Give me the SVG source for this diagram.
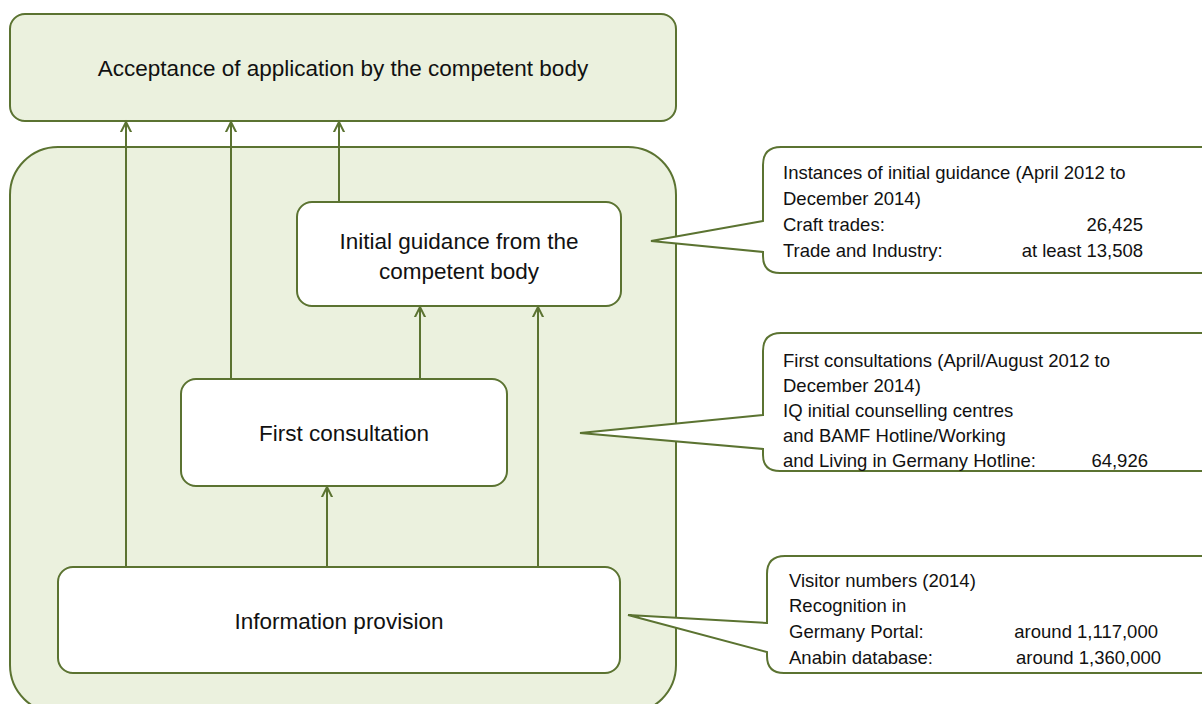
<svg xmlns="http://www.w3.org/2000/svg" width="1202" height="704" viewBox="0 0 1202 704">
<defs>
<style>
.g{fill:#EBF1DE;stroke:#5b7331;stroke-width:2}
.w{fill:#ffffff;stroke:#5b7331;stroke-width:2}
.c{fill:none;stroke:#5b7331;stroke-width:2}
.t{font-family:"Liberation Sans",Arial,sans-serif;font-size:22.5px;fill:#111;text-anchor:middle}
.s{font-family:"Liberation Sans",Arial,sans-serif;font-size:18.5px;fill:#111}
.r{text-anchor:end}
</style>
<marker id="ah" markerUnits="userSpaceOnUse" markerWidth="20" markerHeight="20" refX="0" refY="0" viewBox="-10 -10 20 20" orient="auto">
<path d="M-14,-7 L0,0 L-14,7" fill="none" stroke="#5b7331" stroke-width="2"/>
</marker>
</defs>
<rect width="1202" height="704" fill="#ffffff"/>
<g id="acceptance">
<rect class="g" x="10" y="14" width="666" height="107" rx="15"/>
<text class="t" x="343" y="76">Acceptance of application by the competent body</text>
</g>
<g id="container">
<rect class="g" x="10" y="147" width="666" height="566" rx="48"/>
</g>
<g id="initial-guidance">
<rect class="w" x="297" y="202" width="324" height="104" rx="15"/>
<text class="t" x="459" y="249">Initial guidance from the</text>
<text class="t" x="459" y="279">competent body</text>
</g>
<g id="first-consultation">
<rect class="w" x="181" y="379" width="326" height="107" rx="15"/>
<text class="t" x="344" y="441">First consultation</text>
</g>
<g id="information-provision">
<rect class="w" x="58" y="567" width="562" height="106" rx="15"/>
<text class="t" x="339" y="629">Information provision</text>
</g>
<g id="connectors">
<line class="c" x1="126" y1="567" x2="126" y2="122" marker-end="url(#ah)"/>
<line class="c" x1="231" y1="379" x2="231" y2="122" marker-end="url(#ah)"/>
<line class="c" x1="339" y1="202" x2="339" y2="122" marker-end="url(#ah)"/>
<line class="c" x1="420" y1="379" x2="420" y2="307" marker-end="url(#ah)"/>
<line class="c" x1="538" y1="567" x2="538" y2="307" marker-end="url(#ah)"/>
<line class="c" x1="327" y1="567" x2="327" y2="487" marker-end="url(#ah)"/>
</g>
<g id="callout-guidance">
<path class="w" d="M763,221 L651,241 L763,252 L763,256 Q763,273 780,273 L1212,273 L1212,147 L781,147 Q763,147 763,165 Z"/>
<text class="s" x="783" y="179">Instances of initial guidance (April 2012 to</text>
<text class="s" x="783" y="205">December 2014)</text>
<text class="s" x="783" y="231">Craft trades:</text>
<text class="s r" x="1143" y="231">26,425</text>
<text class="s" x="783" y="257">Trade and Industry:</text>
<text class="s r" x="1143" y="257">at least 13,508</text>
</g>
<g id="callout-consultations">
<path class="w" d="M763,415 L580,433 L763,449 L763,455 Q763,471 780,471 L1212,471 L1212,333 L781,333 Q763,333 763,351 Z"/>
<text class="s" x="783" y="367">First consultations (April/August 2012 to</text>
<text class="s" x="783" y="392">December 2014)</text>
<text class="s" x="783" y="417">IQ initial counselling centres</text>
<text class="s" x="783" y="442">and BAMF Hotline/Working</text>
<text class="s" x="783" y="467">and Living in Germany Hotline:</text>
<text class="s r" x="1148" y="467">64,926</text>
</g>
<g id="callout-visitors">
<path class="w" d="M767,623 L628,615 L767,652 L767,656 Q767,673 784,673 L1212,673 L1212,556 L785,556 Q767,556 767,574 Z"/>
<text class="s" x="789" y="587">Visitor numbers (2014)</text>
<text class="s" x="789" y="612">Recognition in</text>
<text class="s" x="789" y="638">Germany Portal:</text>
<text class="s r" x="1158" y="638">around 1,117,000</text>
<text class="s" x="789" y="664">Anabin database:</text>
<text class="s r" x="1161" y="664">around 1,360,000</text>
</g>
</svg>
